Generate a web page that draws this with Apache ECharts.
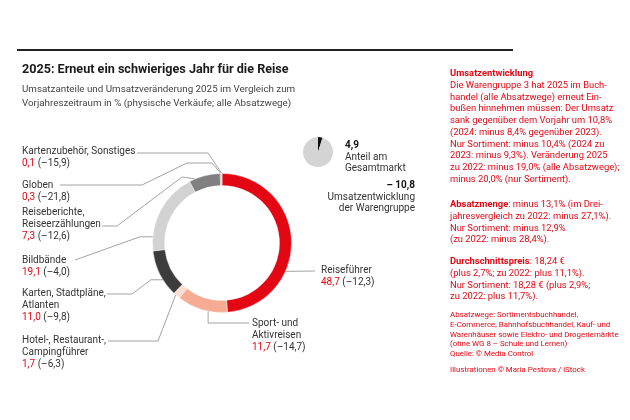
<!DOCTYPE html>
<html><head><meta charset="utf-8">
<script src="https://cdn.jsdelivr.net/npm/echarts@6/dist/echarts.min.js"></script>
<style>html,body{margin:0;padding:0;background:#fff}#c{width:630px;height:420px}</style>
</head><body><div id="c"></div>
<script>
// ---- data ----
const categories = ['Reiseführer','Sport- und Aktivreisen','Hotel-, Restaurant-, Campingführer','Karten, Stadtpläne, Atlanten','Bildbände','Reiseberichte, Reiseerzählungen','Globen','Kartenzubehör, Sonstiges'];
const labelLines = [['Reiseführer'],['Sport- und','Aktivreisen'],['Hotel-, Restaurant-,','Campingführer'],['Karten, Stadtpläne,','Atlanten'],['Bildbände'],['Reiseberichte,','Reiseerzählungen'],['Globen'],['Kartenzubehör, Sonstiges']];
const shares = [48.7, 11.7, 1.7, 11.0, 19.1, 7.3, 0.3, 0.1];
const changes = [-12.3, -14.7, -6.3, -9.8, -4.0, -12.6, -21.8, -15.9];
const marketShare = 4.9;
const groupChange = -10.8;

const colors = ['#e30613','#f5ac93','#fcdcd0','#3c3c3c','#d2d2d2','#808080','#b0b0b0','#9a9a9a'];
const RED = '#e30613', TXT = '#333333', LINE = '#8c8c8c';
const FONT = 'Roboto, "Noto Sans", sans-serif';

const fmt = v => v.toFixed(1).replace('.', ',');
const fmtS = v => (v < 0 ? '–' : '') + fmt(Math.abs(v));

// layout
const cx = 222, cy = 243, R0 = 57.5, R1 = 69.5;
const total = shares.reduce((a,b)=>a+b,0);
function ringPoint(i, t) {
  let start = 0; for (let k=0;k<i;k++) start += shares[k];
  const f = (start + t*shares[i]) / total;
  const a = f*2*Math.PI;
  return [cx + R1*Math.sin(a), cy - R1*Math.cos(a)];
}
const place = [
  {x:321, y:270, t:0.65, path:(p)=>[p,[315,271]]},
  {x:252, y:323, t:0.38, path:(p)=>[p,[p[0],323],[249,323]]},
  {x:22, y:340, t:0.67, path:(p)=>[[108,341],[158,341],p]},
  {x:22, y:293, t:0.36, path:(p)=>[[107,294],[132,294],[151,p[1]],p]},
  {x:22, y:260, t:0.17, path:(p)=>[[75,260],[140,p[1]],p]},
  {x:22, y:212, t:0.19, path:(p)=>[[102,226],[117,226],[182,177],p]},
  {x:22, y:185, t:0.5, path:(p)=>[[60,185],[142,185],[187,163],[212,163],p]},
  {x:22, y:151, t:0.5, path:(p)=>[[137,153],[208,153],p]}
];

const LH = 12;
const graphics = [];
graphics.push({type:'line', shape:{x1:17,y1:50,x2:513,y2:50}, style:{stroke:'#222',lineWidth:2}});
graphics.push({type:'text', x:22, y:70, style:{text:'2025: Erneut ein schwieriges Jahr für die Reise', font:'bold 12.6px '+FONT, fill:'#1a1a1a', textVerticalAlign:'middle'}});
graphics.push({type:'text', x:22, y:83, style:{text:'Umsatzanteile und Umsatzveränderung 2025 im Vergleich zum\nVorjahreszeitraum in % (physische Verkäufe; alle Absatzwege)', font:'9.8px '+FONT, fill:'#444', lineHeight:14, textVerticalAlign:'top'}});

categories.forEach((c,i)=>{
  const p = place[i];
  const pt = ringPoint(i, p.t);
  graphics.push({type:'polyline', shape:{points:p.path(pt)}, style:{stroke:LINE, lineWidth:0.8, fill:null}, z:1});
  const txt = labelLines[i].map(s=>'{n|'+s+'}').join('\n') + '\n{r|'+fmt(shares[i])+'}{n| ('+fmtS(changes[i])+')}';
  graphics.push({type:'text', x:p.x, y:p.y - LH/2, style:{text:txt, textVerticalAlign:'top', lineHeight:LH,
    rich:{n:{font:'10px '+FONT, fill:TXT, lineHeight:LH}, r:{font:'10px '+FONT, fill:RED, lineHeight:LH}}}});
});

graphics.push({type:'text', x:345, y:140, style:{text:'{b|'+fmt(marketShare)+'}\n{n|Anteil am}\n{n|Gesamtmarkt}', textVerticalAlign:'top', lineHeight:11.5,
  rich:{b:{font:'bold 10px '+FONT, fill:'#111', lineHeight:11.5}, n:{font:'10px '+FONT, fill:TXT, lineHeight:11.5}}}});
graphics.push({type:'text', x:415, y:180, style:{text:'{b|– '+fmt(Math.abs(groupChange))+'}\n{n|Umsatzentwicklung}\n{n|der Warengruppe}', textAlign:'right', textVerticalAlign:'top', lineHeight:11.5,
  rich:{b:{font:'bold 10px '+FONT, fill:'#111', lineHeight:11.5, align:'right'}, n:{font:'10px '+FONT, fill:TXT, lineHeight:11.5, align:'right'}}}});

const PL = 11.7;
const rich = {b:{font:'bold 9.4px '+FONT, fill:RED, lineHeight:PL}, n:{font:'9.4px '+FONT, fill:RED, lineHeight:PL}};
const block1 = ['{b|Umsatzentwicklung}','Die Warengruppe 3 hat 2025 im Buch-','handel (alle Absatzwege) erneut Ein-','bußen hinnehmen müssen: Der Umsatz','sank gegenüber dem Vorjahr um 10,8%','(2024: minus 8,4% gegenüber 2023).','Nur Sortiment: minus 10,4% (2024 zu','2023: minus 9,3%). Veränderung 2025','zu 2022: minus 19,0% (alle Absatzwege);','minus 20,0% (nur Sortiment).'];
const block2 = ['{b|Absatzmenge}: minus 13,1% (im Drei-','jahresvergleich zu 2022: minus 27,1%).','Nur Sortiment: minus 12,9%','(zu 2022: minus 28,4%).'];
const block3 = ['{b|Durchschnittspreis}: 18,24 €','(plus 2,7%; zu 2022: plus 11,1%).','Nur Sortiment: 18,28 € (plus 2,9%;','zu 2022: plus 11,7%).'];
const wrapN = arr => arr.map(s => s.replace(/(^|\})([^{]+)/g, (m,a,b)=>a+'{n|'+b+'}')).join('\n');
[[block1,74],[block2,205],[block3,262]].forEach(([b,y])=>{
  graphics.push({type:'text', x:450, y:y-PL/2, style:{text:wrapN(b), textVerticalAlign:'top', lineHeight:PL, rich}});
});
const FL = 9.8;
graphics.push({type:'text', x:450, y:315-FL/2, style:{text:'Absatzwege: Sortimentsbuchhandel,\nE-Commerce, Bahnhofsbuchhandel, Kauf- und\nWarenhäuser sowie Elektro- und Drogeriemärkte\n(ohne WG 8 – Schule und Lernen)', font:'7.9px '+FONT, fill:RED, lineHeight:FL, textVerticalAlign:'top'}});
graphics.push({type:'text', x:450, y:354, style:{text:'Quelle: © Media Control', font:'7.9px '+FONT, fill:RED, textVerticalAlign:'middle'}});
graphics.push({type:'text', x:450, y:370, style:{text:'Illustrationen © Maria Pestova / iStock', font:'7.9px '+FONT, fill:RED, textVerticalAlign:'middle'}});

const chart = echarts.init(document.getElementById('c'), null, {renderer:'canvas'});
chart.setOption({
  animation:false,
  backgroundColor:'#fff',
  series:[
    {type:'pie', center:[cx,cy], radius:[R0,R1], startAngle:90, clockwise:true, label:{show:false}, labelLine:{show:false},
      silent:true, minAngle:0, avoidLabelOverlap:false,
      itemStyle:{borderColor:'#fff', borderWidth:0.4},
      data: categories.map((c,i)=>({name:c, value:shares[i], itemStyle:{color:colors[i]}}))},
    {type:'pie', center:[318,152], radius:[0,15], startAngle:90, clockwise:true, label:{show:false}, labelLine:{show:false}, silent:true,
      data:[{name:'Warengruppe 3', value:marketShare, itemStyle:{color:'#111'}},{name:'Übrige', value:100-marketShare, itemStyle:{color:'#d4d4d4'}}]}
  ],
  graphic:{elements:graphics}
});
</script></body></html>
